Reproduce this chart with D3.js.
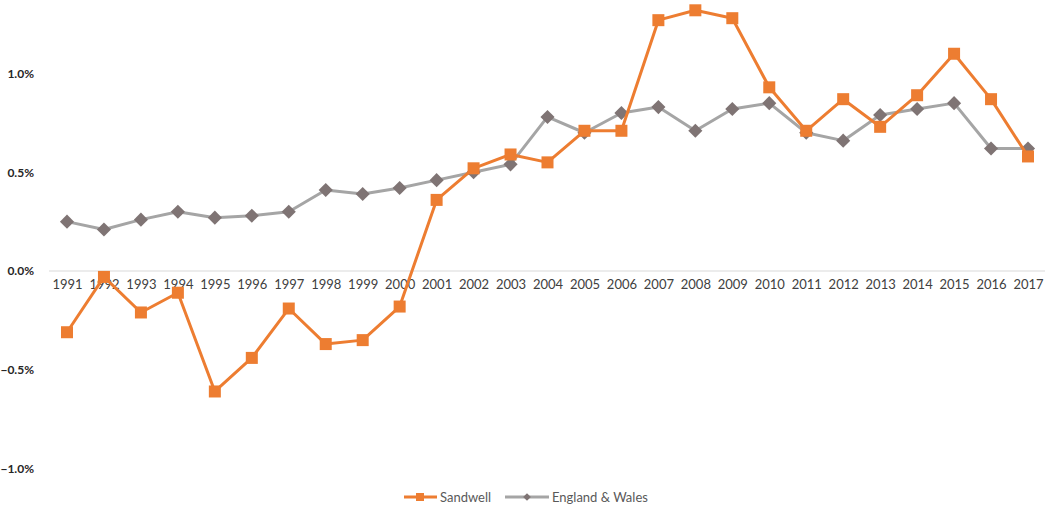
<!DOCTYPE html>
<html><head><meta charset="utf-8">
<script src="https://cdn.jsdelivr.net/npm/d3@7"></script>
<style>body{margin:0;background:#fff;} svg{display:block;}</style>
</head><body>
<svg id="c" width="1045" height="512"></svg>
<script>
const years = ["1991","1992","1993","1994","1995","1996","1997","1998","1999","2000","2001","2002","2003","2004","2005","2006","2007","2008","2009","2010","2011","2012","2013","2014","2015","2016","2017"];
const sandwell = [-0.31,-0.03,-0.21,-0.11,-0.61,-0.44,-0.19,-0.37,-0.35,-0.18,0.36,0.52,0.59,0.55,0.71,0.71,1.27,1.32,1.28,0.93,0.71,0.87,0.73,0.89,1.10,0.87,0.58];
const englandWales = [0.25,0.21,0.26,0.30,0.27,0.28,0.30,0.41,0.39,0.42,0.46,0.50,0.54,0.78,0.70,0.80,0.83,0.71,0.82,0.85,0.70,0.66,0.79,0.82,0.85,0.62,0.62];
const yTicks = [-1.0,-0.5,0.0,0.5,1.0];
const seriesNames = ["Sandwell","England & Wales"];

const svg = d3.select("#c");
const x = d3.scalePoint().domain(years).range([67,1028]);
const y = d3.scaleLinear().domain([-1,1]).range([468.5,73.5]);
const font = "Lato, 'Open Sans', sans-serif";

// zero line
svg.append("line").attr("x1",49).attr("x2",1045).attr("y1",y(0)).attr("y2",y(0))
  .attr("stroke","#d9d9d9").attr("stroke-width",1);

// y axis labels
const yAxis = d3.axisLeft(y).tickValues(yTicks).tickSize(0).tickFormat(d=>d3.format(".1f")(d)+"%");
const ya = svg.append("g").attr("transform","translate(37,0)").call(yAxis);
ya.select(".domain").remove();
ya.selectAll("text").attr("font-family",font).attr("font-size",12).attr("font-weight","bold")
  .attr("fill","#262626").attr("dx",0);

// x axis labels
const xAxis = d3.axisBottom(x).tickSize(0);
const xa = svg.append("g").attr("transform",`translate(0,${y(0)})`).call(xAxis);
xa.select(".domain").remove();
xa.selectAll("text").attr("font-family",font).attr("font-size",13).attr("fill","#404040").attr("dy","1.15em");

const line = d3.line().x((d,i)=>x(years[i])).y(d=>y(d));

// England & Wales
svg.append("path").datum(englandWales).attr("d",line).attr("fill","none")
  .attr("stroke","#a5a5a5").attr("stroke-width",3).attr("stroke-linejoin","round");
svg.selectAll(".ew").data(englandWales).enter().append("path")
  .attr("d",d3.symbol(d3.symbolSquare,100)())
  .attr("transform",(d,i)=>`translate(${x(years[i])},${y(d)}) rotate(45)`)
  .attr("fill","#7f7474");

// Sandwell
svg.append("path").datum(sandwell).attr("d",line).attr("fill","none")
  .attr("stroke","#ed7d31").attr("stroke-width",3).attr("stroke-linejoin","round");
svg.selectAll(".sw").data(sandwell).enter().append("rect")
  .attr("x",(d,i)=>x(years[i])-6).attr("y",d=>y(d)-6).attr("width",12).attr("height",12)
  .attr("fill","#ed7d31");

// legend
const lg = svg.append("g").attr("font-family",font).attr("font-size",13).attr("fill","#595959");
lg.append("line").attr("x1",404).attr("x2",437).attr("y1",497).attr("y2",497).attr("stroke","#ed7d31").attr("stroke-width",3);
lg.append("rect").attr("x",416).attr("y",493).attr("width",8).attr("height",8).attr("fill","#ed7d31");
lg.append("text").attr("x",440).attr("y",502).text(seriesNames[0]);
lg.append("line").attr("x1",505).attr("x2",549).attr("y1",497).attr("y2",497).attr("stroke","#a5a5a5").attr("stroke-width",3);
lg.append("path").attr("d",d3.symbol(d3.symbolSquare,30)()).attr("transform","translate(527,497) rotate(45)").attr("fill","#7f7474");
lg.append("text").attr("x",552).attr("y",502).text(seriesNames[1]);
</script>
</body></html>
